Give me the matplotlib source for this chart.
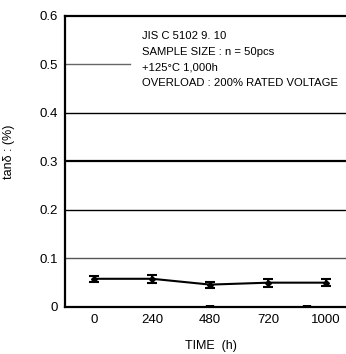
import numpy as np
import matplotlib.pyplot as plt

plt.rcParams['font.family'] = ['Liberation Sans', 'DejaVu Sans']

time_labels = ['0', '240', '480', '720', '1000']
tan_delta = [0.058, 0.058, 0.046, 0.050, 0.050]
err = [0.006, 0.008, 0.006, 0.008, 0.007]
yticks = [0, 0.1, 0.2, 0.3, 0.4, 0.5, 0.6]
ytick_labels = ['0', '0.1', '0.2', '0.3', '0.4', '0.5', '0.6']
note = ['JIS C 5102 9. 10',
        'SAMPLE SIZE : n = 50pcs',
        '+125\u00b0C 1,000h',
        'OVERLOAD : 200% RATED VOLTAGE']

fig = plt.figure(figsize=(3.46, 3.54), dpi=100)
ax = fig.add_axes([0.188, 0.133, 0.812, 0.822])

x = np.arange(len(time_labels))

# grid lines (0.5 one is cut short by the note)
ax.axhline(0.1, color='#555555', lw=1.0, zorder=1)
ax.axhline(0.2, color='black', lw=1.0, zorder=1)
ax.axhline(0.3, color='black', lw=1.6, zorder=1)
ax.axhline(0.4, color='black', lw=1.0, zorder=1)
ax.axhline(0.5, xmin=0, xmax=0.23, color='#666666', lw=1.0, zorder=1)

ax.errorbar(x, tan_delta, yerr=err, color='black', lw=1.5, marker='D',
            markersize=3, capsize=3.5, capthick=1.5, elinewidth=1.5, zorder=3)

ax.set_xlim(-0.5, 4.34)
ax.set_ylim(0, 0.6)
ax.xaxis.remove_overlapping_locs = False
ax.set_xticks(x)
ax.set_xticklabels(time_labels)
ax.set_xticks([2, 3.66], minor=True)
ax.set_yticks(yticks)
ax.set_yticklabels(ytick_labels)
ax.tick_params(axis='both', which='major', length=0, labelsize=9.5)
ax.tick_params(axis='x', which='major', pad=5)
ax.tick_params(axis='y', which='major', pad=5)
ax.tick_params(axis='x', which='minor', length=1.5, width=6, direction='in',
               color='black')

for s in ['top', 'left', 'bottom']:
    ax.spines[s].set_linewidth(1.6)
ax.spines['right'].set_visible(False)

ax.set_xlabel('TIME  (h)', fontsize=9)
ax.xaxis.set_label_coords(0.52, -0.115)
ax.set_ylabel('tan\u03b4 : (%)', fontsize=9)
ax.yaxis.set_label_coords(-0.178, 0.533)

ax.text(0.275, 0.948, '\n'.join(note), transform=ax.transAxes,
        fontsize=8.1, va='top', ha='left', linespacing=1.72)

fig.savefig('out.png', dpi=100)
